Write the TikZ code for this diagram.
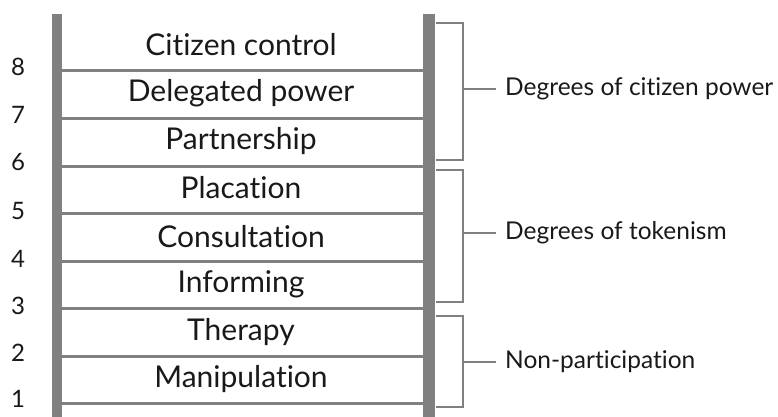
\documentclass[tikz,border=0pt]{standalone}
\usepackage{fontspec}
\setmainfont{Lato}[Ligatures=NoCommon]
\usepackage{xcolor}
\usetikzlibrary{calc}
\definecolor{railgray}{RGB}{128,128,128}
\tikzset{
  rung/.style={draw=railgray, line width=3pt},
  cell/.style={font=\fontsize{30}{34}\selectfont, text=black!90},
  num/.style={font=\fontsize{24}{28}\selectfont, text=black!90},
  grouplabel/.style={font=\fontsize{24.5}{28}\selectfont, text=black!90, anchor=west, inner sep=0pt},
  bracket/.style={draw=railgray, line width=1.1pt}
}
\begin{document}
\begin{tikzpicture}[x=1pt,y=-1pt]
\useasboundingbox (0,0) rectangle (778,417);
\fill[railgray] (52,14) rectangle (62,417); %left rail
\fill[railgray] (423,14) rectangle (435,417); %right rail
\draw[rung] (62,71) -- (423,71); %rung 8
\draw[rung] (62,118.5) -- (423,118.5); %7
\draw[rung] (62,166) -- (423,166); %6
\draw[rung] (62,213.5) -- (423,213.5); %5
\draw[rung] (62,261) -- (423,261); %4
\draw[rung] (62,308.5) -- (423,308.5); %3
\draw[rung] (62,356) -- (423,356); %2
\draw[rung] (62,403.5) -- (423,403.5); %1

\node[cell] (control) at (241,45) {Citizen control};
\node[cell] (delegated) at (241,93) {Delegated power};
\node[cell] (partnership) at (241,141) {Partnership};
\node[cell] (placation) at (241,188) {Placation};
\node[cell] (consultation) at (241,237) {Consultation};
\node[cell] (informing) at (241,284) {Informing};
\node[cell] (therapy) at (241,332) {Therapy};
\node[cell] (manipulation) at (241,379) {Manipulation};

\node[num] (n8) at (18,67) {8};
\node[num] (n7) at (18,115) {7};
\node[num] (n6) at (18,162) {6};
\node[num] (n5) at (18,211) {5};
\node[num] (n4) at (18,259) {4};
\node[num] (n3) at (18,306) {3};
\node[num] (n2) at (18,353) {2};
\node[num] (n1) at (18,399) {1};

%%%%%%%%%%%%%%%%%%%%%%%%%%%%%%%%%%%%%%%%%%%%%%%%%%%%%%%%%%%%%%%%%%%%%%%%%%%%%%%%
\node[grouplabel] (power) at (505,89) {Degrees of citizen power};
\node[grouplabel] (tokenism) at (505,233) {Degrees of tokenism};
\node[grouplabel] (nonpart) at (505,362) {Non-participation};

\coordinate (powertick) at (463,89);
\coordinate (tokentick) at (463,233);
\coordinate (nontick) at (463,362);
\draw[bracket] (436,23) -- (463,23) -- (463,160) -- (436,160); %citizen power
\draw[bracket] (436,170) -- (463,170) -- (463,302) -- (436,302); %tokenism
\draw[bracket] (436,316) -- (463,316) -- (463,407) -- (436,407); %non-participation
\draw[bracket] (powertick) -- ($(power.west)+(-9,0)$);
\draw[bracket] (tokentick) -- ($(tokenism.west)+(-9,0)$);
\draw[bracket] (nontick) -- ($(nonpart.west)+(-9,0)$);
\end{tikzpicture}
\end{document}
